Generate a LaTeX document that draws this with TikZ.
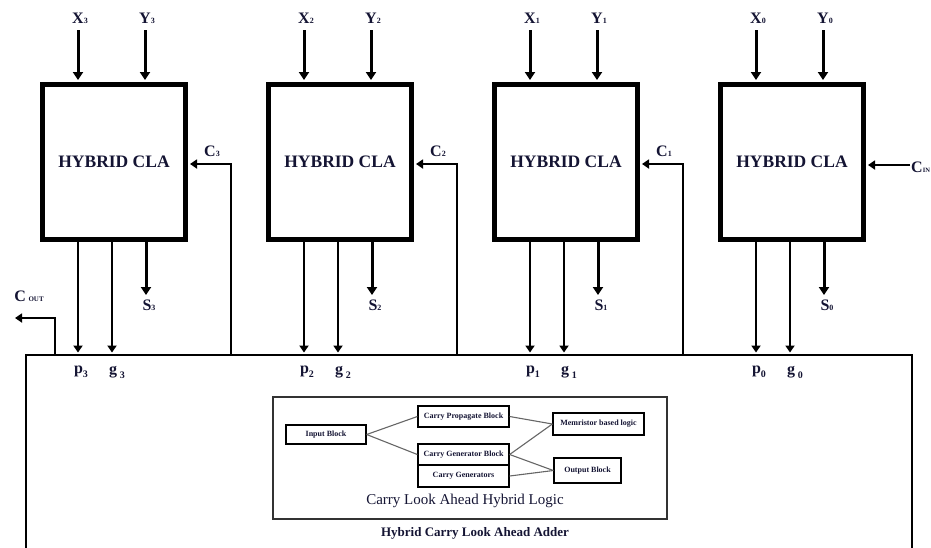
\documentclass[tikz,border=0pt]{standalone}
\usepackage{fontspec}
\setmainfont{Liberation Serif}
\usetikzlibrary{arrows.meta,calc}
\definecolor{txt}{rgb}{0.08,0.08,0.2}
\begin{document}
\begin{tikzpicture}[x=1pt,y=-1pt,
  cla/.style={draw, line width=5pt, minimum width=143pt, minimum height=155pt, inner sep=0pt,
    text=txt, font=\fontsize{17.5}{18}\selectfont\bfseries},
  lbl/.style={inner sep=0pt, text=txt, font=\fontsize{16}{16}\selectfont\bfseries},
  inarrow/.style={line width=3pt, -{Triangle[length=8pt,width=10pt]}},
  sarrow/.style={line width=3pt, -{Triangle[length=8pt,width=10pt]}},
  pgarrow/.style={line width=2pt, -{Triangle[length=7pt,width=9pt]}},
  carrow/.style={line width=2pt, -{Triangle[length=7pt,width=9pt]}},
  ibox/.style={draw, line width=1.3pt, inner sep=0pt, text=txt, font=\fontsize{8}{9}\selectfont\bfseries},
  link/.style={draw=black!60, line width=1.1pt}
]
\useasboundingbox (0,0) rectangle (931,547);

% main adder box (bottom runs off the page)
\node[draw, line width=2.5pt, minimum width=886pt, minimum height=250pt, inner sep=0pt] (adder) at (469,480) {};

% four hybrid CLA blocks
\foreach \i/\cx in {3/114,2/340,1/566,0/792} {
  \node[cla] (b\i) at (\cx,162) {HYBRID CLA};
  \coordinate (xs\i) at (\cx-36,30);
  \coordinate (ys\i) at (\cx+31,30);
  \node[lbl] (xl\i) at (\cx-34,18) {X{\fontsize{8}{8}\selectfont\i}};
  \node[lbl] (yl\i) at (\cx+33,18) {Y{\fontsize{8}{8}\selectfont\i}};
  \draw[inarrow, shorten >=2pt] (xs\i) -- (xs\i |- b\i.north);
  \draw[inarrow, shorten >=2pt] (ys\i) -- (ys\i |- b\i.north);
  % p, g, S outputs
  \coordinate (pc\i) at (\cx-36,300);
  \coordinate (gc\i) at (\cx-2,300);
  \coordinate (se\i) at (\cx+32,295);
  \draw[pgarrow, shorten >=1.2pt] (b\i.south -| pc\i) -- (pc\i |- adder.north);
  \draw[pgarrow, shorten >=1.2pt] (b\i.south -| gc\i) -- (gc\i |- adder.north);
  \draw[sarrow] (b\i.south -| se\i) -- (se\i);
  \node[lbl] (sl\i) at (\cx+35,305) {S{\fontsize{8}{8}\selectfont\i}};
  \node[lbl] (pl\i) at (\cx-33,372) {p\raisebox{-4pt}{\fontsize{10}{10}\selectfont\i}};
  \node[lbl] (gl\i) at (\cx+3,372) {g\,\raisebox{-4pt}{\fontsize{10}{10}\selectfont\i}};
}

% carry feedback lines
\foreach \i/\cx in {3/114,2/340,1/566} {
  \coordinate (cc\i) at (\cx+117,164);
  \draw[carrow, shorten >=2pt] (cc\i |- adder.north) -- (cc\i) -- (b\i.east |- cc\i);
  \node[lbl] (cl\i) at (\cx+98,151) {C{\fontsize{8}{8}\selectfont\i}};
}

% carry in
\coordinate (cin) at (910,165);
\draw[carrow, shorten >=2pt] (cin) -- (b0.east |- cin);
\node[lbl, anchor=west] (cinl) at (911,167) {C{\fontsize{6.5}{7}\selectfont IN}};

% carry out
\coordinate (co1) at (55,318);
\coordinate (cout) at (15,318);
\draw[carrow] (co1 |- adder.north) -- (co1) -- (cout);
\node[lbl] (coutl) at (29,296) {C\,{\fontsize{7}{7}\selectfont OUT}};

% inner hybrid logic box
\node[draw=black!80, line width=1.5pt, minimum width=394pt, minimum height=122pt, inner sep=0pt] (hl) at (470,458) {};
\node[ibox, minimum width=80pt, minimum height=19pt] (inp) at (326,434.5) {Input Block};
\node[ibox, minimum width=91pt, minimum height=21pt] (cp) at (463.5,416.5) {Carry Propagate Block};
\node[ibox, minimum width=91pt, minimum height=21pt] (cg) at (463.5,454.5) {Carry Generator Block};
\node[ibox, minimum width=91pt, minimum height=22pt] (cgs) at (463.5,476) {Carry Generators};
\node[ibox, minimum width=91pt, minimum height=22pt] (mem) at (598.5,424) {Memristor based logic};
\node[ibox, minimum width=67pt, minimum height=25pt] (out) at (587.5,470.5) {Output Block};
\path[link] (inp.east) -- (cp.west);
\path[link] (inp.east) -- (cg.west);
\path[link] (cp.east) -- (mem.west);
\path[link] (cg.east) -- (mem.west);
\path[link] (cg.east) -- (out.west);
\path[link] (cgs.east) -- (out.west);
\node[inner sep=0pt, text=txt, font=\fontsize{15}{15}\selectfont] (hlt) at (465,501) {Carry Look Ahead Hybrid Logic};
\node[inner sep=0pt, text=txt, font=\fontsize{13}{13}\selectfont\bfseries] (title) at (475,533) {Hybrid Carry Look Ahead Adder};
\end{tikzpicture}
\end{document}
